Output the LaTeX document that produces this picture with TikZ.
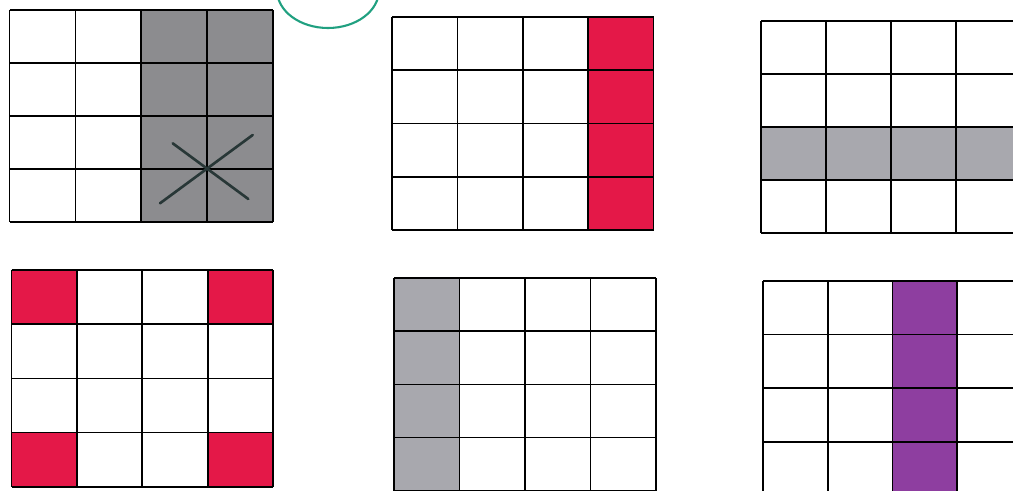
\documentclass[tikz,border=0pt]{standalone}
\definecolor{pencilgray}{RGB}{140,140,143}
\definecolor{lightgray}{RGB}{168,168,174}
\definecolor{pencilred}{RGB}{228,24,72}
\definecolor{pencilpurple}{RGB}{142,62,160}
\definecolor{markgreen}{RGB}{32,160,128}
\definecolor{crossink}{RGB}{40,55,55}
\begin{document}
\begin{tikzpicture}[x=0.02cm,y=-0.02cm,line width=1pt]
			\useasboundingbox (0,0) rectangle (1013,490);
			\clip (0,0) rectangle (1013,490);
			% coloured cells
			\fill[pencilgray] (141.3,10) rectangle (273,222);
			\fill[pencilred] (588.2,17) rectangle (653.6,230);
			\fill[lightgray] (761,127) rectangle (1021,180);
			\fill[pencilred] (11.5,270) rectangle (76.9,324.2);
			\fill[pencilred] (207.7,270) rectangle (273.1,324.2);
			\fill[pencilred] (11.5,432.6) rectangle (76.9,486.8);
			\fill[pencilred] (207.7,432.6) rectangle (273.1,486.8);
			\fill[lightgray] (394,278) rectangle (459.5,491);
			\fill[pencilpurple] (892.4,281) rectangle (957.1,495);
			% the six grids
			\foreach \gx/\gy/\cw/\ch in {9.5/10/65.9/53, 392/17/65.4/53.3, 761/21/65.1/53,
				11.5/270/65.4/54.2, 394/278/65.5/53.2, 763/281/64.7/53.6}
				\foreach \i in {0,...,4}{
					\draw (\gx+\i*\cw,\gy) -- (\gx+\i*\cw,\gy+4*\ch);
					\draw (\gx,\gy+\i*\ch) -- (\gx+4*\cw,\gy+\i*\ch);
				}
			% cross and circle
			\draw[crossink,line width=1.5pt,line cap=round] (172.7,143.3) -- (248.3,199);
			\draw[crossink,line width=1.5pt,line cap=round] (160,203.3) -- (252.7,135);
			\draw[markgreen,line width=1.2pt] (328,-10) ellipse (51 and 38);
		\end{tikzpicture}
\end{document}
